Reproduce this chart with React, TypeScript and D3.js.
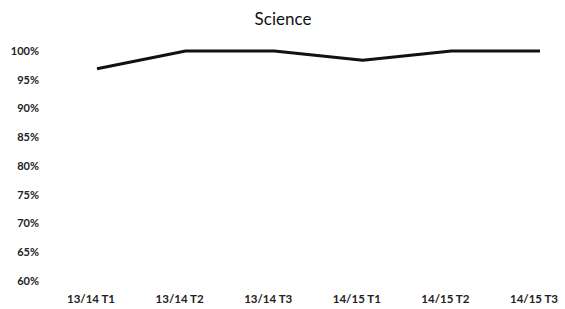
import React from 'react';
import * as d3 from 'd3';

const terms = ['13/14 T1', '13/14 T2', '13/14 T3', '14/15 T1', '14/15 T2', '14/15 T3'];
const scores = [96.9, 100, 100, 98.4, 100, 100];
const yTicks = [60, 65, 70, 75, 80, 85, 90, 95, 100];

const width = 565;
const height = 309;

const App = () => {
  // scales
  const x = d3.scalePoint<string>().domain(terms).range([97, 540]);
  const y = d3.scaleLinear().domain([60, 100]).range([281, 51]);

  const line = d3.line<number>()
    .x((_, i) => x(terms[i]) as number)
    .y(d => y(d));

  const font = 'Lato, "Open Sans", sans-serif';

  return (
    <svg width={width} height={height} style={{ position: 'absolute', left: 0, top: 0, background: '#fff' }}>
      <text x={283} y={25} textAnchor="middle" fontFamily={font} fontSize={17} fill="#111">Science</text>

      {/* y axis labels */}
      {yTicks.map(t => (
        <text key={t} x={39} y={y(t)} dy="0.35em" textAnchor="end"
          fontFamily={font} fontWeight="bold" fontSize={11} fill="#222">{t}%</text>
      ))}

      {/* x axis labels */}
      {terms.map(t => (
        <text key={t} x={(x(t) as number) - 6} y={299} dy="0.35em" textAnchor="middle"
          fontFamily={font} fontWeight="bold" fontSize={11.5} fill="#222">{t}</text>
      ))}

      <path d={line(scores) || ''} fill="none" stroke="#111" strokeWidth={3} strokeLinejoin="round" />
    </svg>
  );
};

export default App;
